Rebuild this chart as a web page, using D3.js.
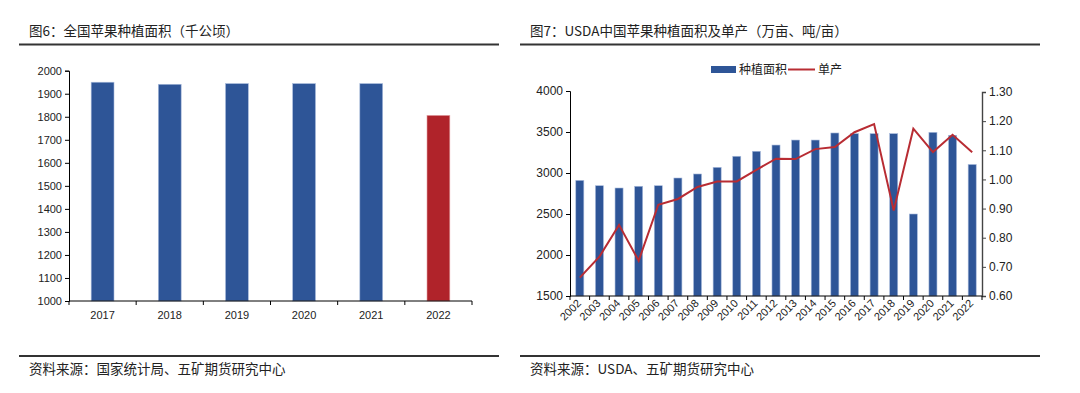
<!DOCTYPE html>
<html>
<head>
<meta charset="utf-8">
<script src="https://cdn.jsdelivr.net/npm/d3@7"></script>
<style>
  body { margin: 0; background: #fff; }
  svg { display: block; }
  text { font-family: "Liberation Sans", Arial, sans-serif; fill: #222; }
  .cjk { font-family: "Noto Sans CJK SC", sans-serif; }
</style>
</head>
<body>
<svg id="chart" width="1080" height="393"></svg>
<script>
// left chart: 全国苹果种植面积 (千公顷)
const yearsL = ["2017", "2018", "2019", "2020", "2021", "2022"];
const areaL = [1950, 1941, 1944, 1944, 1944, 1806];
const ticksL = [1000, 1100, 1200, 1300, 1400, 1500, 1600, 1700, 1800, 1900, 2000];

// right chart: USDA 种植面积 (万亩) and 单产 (吨/亩)
const yearsR = ["2002", "2003", "2004", "2005", "2006", "2007", "2008", "2009", "2010", "2011", "2012",
  "2013", "2014", "2015", "2016", "2017", "2018", "2019", "2020", "2021", "2022"];
const areaR = [2910, 2845, 2817, 2838, 2845, 2939, 2988, 3069, 3204, 3265, 3341,
  3402, 3402, 3488, 3480, 3480, 3480, 2500, 3496, 3460, 3104];
const yieldR = [0.663, 0.735, 0.844, 0.721, 0.913, 0.933, 0.974, 0.993, 0.993, 1.033, 1.071,
  1.070, 1.104, 1.111, 1.162, 1.190, 0.893, 1.174, 1.094, 1.153, 1.093];
const ticksRL = [1500, 2000, 2500, 3000, 3500, 4000];
const ticksRR = [0.6, 0.7, 0.8, 0.9, 1.0, 1.1, 1.2, 1.3];

const blue = "#2E5597", red = "#B0232A", redLine = "#B82C33";
const svg = d3.select("#chart");

// titles and footers
function frame(x0, x1, title, source) {
  svg.append("text").attr("class", "cjk").attr("x", x0 + 10).attr("y", 36)
    .attr("font-size", "13.5px").attr("fill", "#1a1a1a").text(title);
  svg.append("line").attr("x1", x0).attr("x2", x1).attr("y1", 44.5).attr("y2", 44.5)
    .attr("stroke", "#333").attr("stroke-width", 2);
  svg.append("line").attr("x1", x0).attr("x2", x1).attr("y1", 356).attr("y2", 356)
    .attr("stroke", "#333").attr("stroke-width", 2);
  svg.append("text").attr("class", "cjk").attr("x", x0 + 10).attr("y", 374)
    .attr("font-size", "13.5px").attr("fill", "#1a1a1a").text(source);
}
frame(19, 499, "图6：全国苹果种植面积（千公顷）", "资料来源：国家统计局、五矿期货研究中心");
frame(520, 1040, "图7：USDA中国苹果种植面积及单产（万亩、吨/亩）", "资料来源：USDA、五矿期货研究中心");

// boundary ticks between categories
function boundaryTicks(g, x, n, y0) {
  const r = x.range();
  g.append("g").selectAll("line").data(d3.range(n + 1)).join("line")
    .attr("x1", i => r[0] + i * x.step()).attr("x2", i => r[0] + i * x.step())
    .attr("y1", y0).attr("y2", y0 + 4).attr("stroke", "#000");
}

// ---- left chart ----
{
  const x = d3.scaleBand().domain(yearsL).range([69, 472]).paddingInner(0.66).paddingOuter(0.33);
  const y = d3.scaleLinear().domain([1000, 2000]).range([301, 70.7]);
  const g = svg.append("g");

  g.selectAll("rect").data(yearsL).join("rect")
    .attr("x", d => x(d)).attr("width", x.bandwidth())
    .attr("y", (d, i) => y(areaL[i])).attr("height", (d, i) => y(1000) - y(areaL[i]))
    .attr("fill", (d, i) => i === yearsL.length - 1 ? red : blue)
    .attr("stroke", (d, i) => i === yearsL.length - 1 ? "#e3a0a4" : "#a9bbdc").attr("stroke-width", 0.6);

  const ya = g.append("g").attr("transform", "translate(69,0)")
    .call(d3.axisLeft(y).tickValues(ticksL).tickSize(4).tickFormat(d3.format("d")));
  ya.select(".domain").attr("stroke", "#000");
  ya.selectAll("text").attr("font-size", "11px").attr("fill", "#222")
    .attr("font-family", "Liberation Sans, Arial, sans-serif");

  g.append("line").attr("x1", 69).attr("x2", 472).attr("y1", 301).attr("y2", 301).attr("stroke", "#000");
  boundaryTicks(g, x, yearsL.length, 301);
  g.selectAll(".xl").data(yearsL).join("text").attr("class", "xl")
    .attr("x", d => x(d) + x.bandwidth() / 2).attr("y", 319)
    .attr("text-anchor", "middle").attr("font-size", "11px").text(d => d);
}

// ---- right chart ----
{
  const x = d3.scaleBand().domain(yearsR).range([570, 982]).paddingInner(0.59).paddingOuter(0.295);
  const yL = d3.scaleLinear().domain([1500, 4000]).range([296, 91]);
  const yR = d3.scaleLinear().domain([0.6, 1.3]).range([296, 92]);
  const g = svg.append("g");

  g.selectAll("rect").data(yearsR).join("rect")
    .attr("x", d => x(d)).attr("width", x.bandwidth())
    .attr("y", (d, i) => yL(areaR[i])).attr("height", (d, i) => yL(1500) - yL(areaR[i]))
    .attr("fill", blue).attr("stroke", "#a9bbdc").attr("stroke-width", 0.6);

  const line = d3.line()
    .x((d, i) => x(yearsR[i]) + x.bandwidth() / 2)
    .y(d => yR(d));
  g.append("path").datum(yieldR).attr("d", line)
    .attr("fill", "none").attr("stroke", redLine).attr("stroke-width", 2).attr("stroke-linejoin", "miter");

  const ya = g.append("g").attr("transform", "translate(570,0)")
    .call(d3.axisLeft(yL).tickValues(ticksRL).tickSize(4).tickFormat(d3.format("d")));
  ya.select(".domain").attr("stroke", "#000");
  ya.selectAll("text").attr("font-size", "12px").attr("fill", "#222")
    .attr("font-family", "Liberation Sans, Arial, sans-serif");

  const yb = g.append("g").attr("transform", "translate(982,0)")
    .call(d3.axisRight(yR).tickValues(ticksRR).tickSize(4).tickFormat(d3.format(".2f")));
  yb.select(".domain").attr("stroke", "#444").attr("stroke-width", 1.4);
  yb.selectAll("line").attr("stroke", "#444");
  yb.selectAll("text").attr("font-size", "12px").attr("fill", "#222")
    .attr("font-family", "Noto Sans CJK SC, sans-serif");

  g.append("line").attr("x1", 570).attr("x2", 982).attr("y1", 296).attr("y2", 296).attr("stroke", "#000");
  boundaryTicks(g, x, yearsR.length, 296);
  g.selectAll(".xl").data(yearsR).join("text").attr("class", "xl")
    .attr("transform", d => `translate(${x(d) + x.bandwidth() / 2 + 2},${304}) rotate(-45)`)
    .attr("text-anchor", "end").attr("font-size", "11px").text(d => d);

  // legend
  const lg = g.append("g");
  lg.append("rect").attr("x", 711).attr("y", 66).attr("width", 25).attr("height", 7).attr("fill", blue);
  lg.append("text").attr("class", "cjk").attr("x", 739).attr("y", 74).attr("font-size", "12px").text("种植面积");
  lg.append("line").attr("x1", 788).attr("x2", 815).attr("y1", 69.5).attr("y2", 69.5)
    .attr("stroke", redLine).attr("stroke-width", 2);
  lg.append("text").attr("class", "cjk").attr("x", 818).attr("y", 74).attr("font-size", "12px").text("单产");
}
</script>
</body>
</html>
